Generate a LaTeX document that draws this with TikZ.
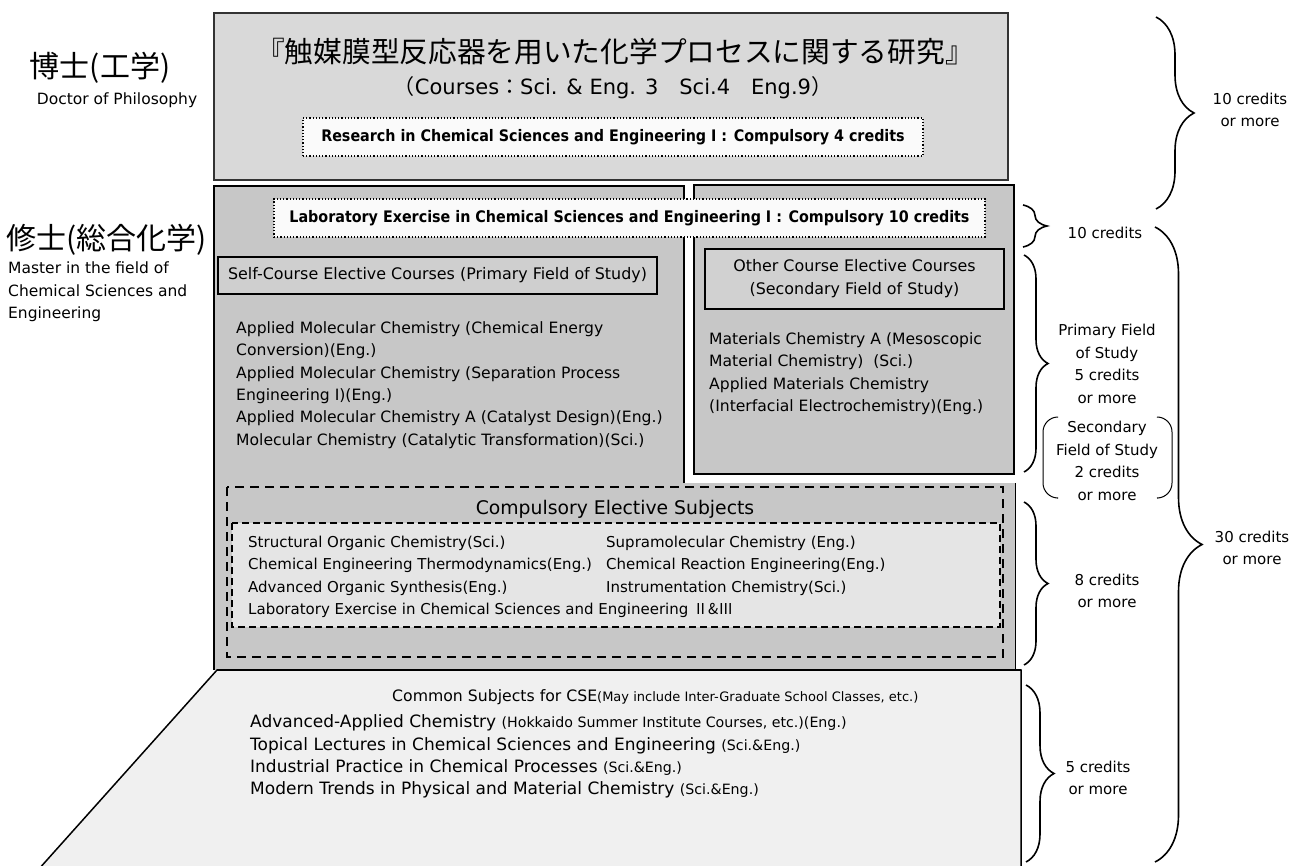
\documentclass[tikz,border=0pt]{standalone}
\usepackage{fontspec}
\setmainfont{DejaVu Sans}
\newfontfamily\jp{Noto Sans CJK JP}
\newfontfamily\condbf{DejaVu Sans Condensed Bold}
\usetikzlibrary{decorations.pathreplacing}

\begin{document}
\begin{tikzpicture}[x=1pt, y=-1pt]

\useasboundingbox (0,0) rectangle (1292,866);

%% styles for the boxes and texts
\tikzstyle{txt}=[inner sep=0pt, anchor=west, font=\fontsize{15.6}{18}\selectfont]
\tikzstyle{dotted box}=[draw=black, dotted, line width=1.2pt, fill=black!2, inner sep=0pt, font=\condbf\fontsize{15.9}{18}\selectfont]
\tikzstyle{field box}=[draw=black, line width=2.5pt, inner sep=0pt, align=center, font=\fontsize{15.9}{23}\selectfont]
\tikzstyle{credit}=[inner sep=0pt, align=center, font=\fontsize{15}{22.7}\selectfont]
\tikzset{credit brace/.style={decorate, decoration={brace, amplitude=#1}, line width=1.6pt}}

%% grid of the picture
\def\xl{214}
\def\xm{684}
\def\xr{1015}
\def\lsep{22.4}

% Doctor level
\draw[draw=black!80, line width=1.5pt, fill=black!15] (\xl,13) rectangle (1008,180);
\node[font=\jp\fontsize{28.7}{30}\selectfont] (title) at (615,52) {『触媒膜型反応器を用いた化学プロセスに関する研究』};
\node[font=\fontsize{21}{24}\selectfont] (courses) at (613,88) {{\jp（}Courses{\jp：}Sci. \& Eng. 3{\jp　}Sci.4{\jp　}Eng.9{\jp）}};
\node[dotted box, minimum width=620, minimum height=38] (research) at (613,137) {Research in Chemical Sciences and Engineering Ⅰ : Compulsory 4 credits};

% Master level
\fill[black!22] (\xl,186) -- (\xm,186) -- (\xm,483) -- (\xr,483) -- (\xr,670) -- (\xl,670) -- cycle;
\draw[line width=2pt] (\xl,670) -- (\xl,186) -- (\xm,186) -- (\xm,483);
\draw[line width=1pt] (\xr,483) -- (\xr,670);
\draw[line width=2pt, fill=black!22] (694,185) rectangle (1014,474);

\node[dotted box, minimum width=711, minimum height=38] (lab) at (629.5,218) {Laboratory Exercise in Chemical Sciences and Engineering Ⅰ : Compulsory 10 credits};
\node[field box, fill=black!19, minimum width=439, minimum height=37] (self) at (437.5,275.5) {Self-Course Elective Courses (Primary Field of Study)};
\node[field box, fill=black!18, minimum width=299, minimum height=60] (other) at (854.5,279) {Other Course Elective Courses\\(Secondary Field of Study)};

% Draw the primary field courses
\foreach \txt [count=\i] in {{Applied Molecular Chemistry (Chemical Energy},{Conversion)(Eng.)},
{Applied Molecular Chemistry (Separation Process},{Engineering I)(Eng.)},
{Applied Molecular Chemistry A (Catalyst Design)(Eng.)},
{Molecular Chemistry (Catalytic Transformation)(Sci.)}}
\node[txt] (P-\i) at (236,{329+\lsep*(\i-1)}) {\txt};

% Draw the secondary field courses
\foreach \txt [count=\i] in {{Materials Chemistry A (Mesoscopic},{Material Chemistry)\ \ (Sci.)},
{Applied Materials Chemistry},{(Interfacial Electrochemistry)(Eng.)}}
\node[txt] (S-\i) at (709,{340+\lsep*(\i-1)}) {\txt};

% Compulsory elective subjects
\draw[dashed, dash pattern=on 9pt off 6pt, line width=2pt] (227,487) rectangle (1003,657);
\draw[dashed, dash pattern=on 7pt off 4pt, line width=1.2pt, fill=black!10] (232,523) rectangle (1000,627);
\node[font=\fontsize{18.8}{22}\selectfont] (cs) at (615,509) {Compulsory Elective Subjects};

\foreach \txt [count=\i] in {{Structural Organic Chemistry(Sci.)},{Chemical Engineering Thermodynamics(Eng.)},
{Advanced Organic Synthesis(Eng.)},{Laboratory Exercise in Chemical Sciences and Engineering {\jp Ⅱ\&Ⅲ}}}
\node[txt, font=\fontsize{15}{18}\selectfont] (C-\i) at (248,{543+22.6*(\i-1)}) {\txt};
\foreach \txt [count=\i] in {{Supramolecular Chemistry (Eng.)},{Chemical Reaction Engineering(Eng.)},
{Instrumentation Chemistry(Sci.)}}
\node[txt, font=\fontsize{15}{18}\selectfont] (D-\i) at (606,{543+22.6*(\i-1)}) {\txt};

% Common subjects
\draw[line width=1.5pt, fill=black!6] (217,670) -- (1021,670) -- (1021,870) -- (38,870) -- cycle;
\draw[line width=2.5pt] (217,670) -- (1021,670);
\node[txt, font=\fontsize{15.7}{18}\selectfont] (common) at (392,697) {Common Subjects for CSE{\fontsize{13}{14}\selectfont(May include Inter-Graduate School Classes, etc.)}};
\foreach \main/\extra [count=\i] in {{Advanced-Applied Chemistry}/{(Hokkaido Summer Institute Courses, etc.)(Eng.)},
{Topical Lectures in Chemical Sciences and Engineering}/{(Sci.\&Eng.)},
{Industrial Practice in Chemical Processes}/{(Sci.\&Eng.)},
{Modern Trends in Physical and Material Chemistry}/{(Sci.\&Eng.)}}
\node[txt, font=\fontsize{17}{19}\selectfont] (B-\i) at (250,{723+22.4*(\i-1)}) {\main\ {\fontsize{14.2}{16}\selectfont\extra}};

% Degree labels
\node[font=\jp\fontsize{30}{32}\selectfont] (phd) at (100,68) {博士(工学)};
\node[font=\fontsize{15.5}{16}\selectfont] (phd-en) at (117,100) {Doctor of Philosophy};
\node[inner sep=0pt, anchor=west, font=\jp\fontsize{30}{32}\selectfont] (ms) at (6,240) {修士(総合化学)};
\node[inner sep=0pt, anchor=north west, align=left, font=\fontsize{15.5}{22.5}\selectfont] (ms-en) at (8,262) {Master in the field of\\Chemical Sciences and\\Engineering};

% Credit braces
\coordinate (b1a) at (1156,17);  \coordinate (b1b) at (1156,209);
\coordinate (b2a) at (1023,205); \coordinate (b2b) at (1023,247);
\coordinate (b3a) at (1024,255); \coordinate (b3b) at (1024,472);
\coordinate (b4a) at (1024,502); \coordinate (b4b) at (1024,665);
\coordinate (b5a) at (1026,685); \coordinate (b5b) at (1026,862);
\coordinate (b6a) at (1155,227); \coordinate (b6b) at (1155,862);
\draw[credit brace=38] (b1a) -- (b1b);
\draw[credit brace=24] (b2a) -- (b2b);
\draw[credit brace=24] (b3a) -- (b3b);
\draw[credit brace=24] (b4a) -- (b4b);
\draw[credit brace=28] (b5a) -- (b5b);
\draw[credit brace=47] (b6a) -- (b6b);

\node[credit] (c-doc) at (1250,110) {10 credits\\or more};
\node[credit] (c-lab) at (1105,233) {10 credits};
\node[credit] (c-prim) at (1107,364) {Primary Field\\of Study\\5 credits\\or more};
\node[credit] (c-sec) at (1107,461) {Secondary\\Field of Study\\2 credits\\or more};
\node[credit] (c-comp) at (1107,591) {8 credits\\or more};
\node[credit] (c-all) at (1252,548) {30 credits\\or more};
\node[credit] (c-com) at (1098,778) {5 credits\\or more};

% parentheses round the secondary field
\draw[line width=1pt, rounded corners=15pt] (1057,417) -- (1043,417) -- (1043,498) -- (1057,498);
\draw[line width=1pt, rounded corners=15pt] (1158,417) -- (1172,417) -- (1172,498) -- (1158,498);

\end{tikzpicture}
\end{document}
